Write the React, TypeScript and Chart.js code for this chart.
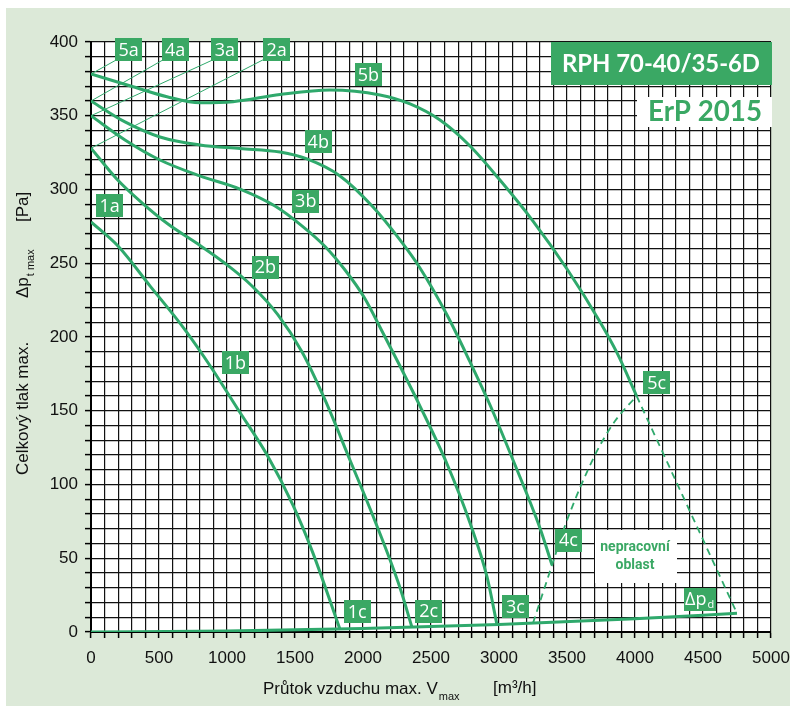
import React, { useEffect, useRef } from 'react';
import { Chart, registerables } from 'chart.js';

Chart.register(...registerables);

const LINE_GREEN = '#2fa96c';
const BOX_GREEN = '#3aa864';
const BG = '#dce9d8';

// Fan curves: flow [m3/h] and total pressure [Pa]
const curve1V = [0, 200, 435, 690, 890, 1080, 1295, 1485, 1630, 1830];
const curve1P = [278, 261.5, 234.5, 205, 178.5, 151, 120, 86, 54, 2];

const curve2V = [0, 191, 375, 566, 787, 985, 1184, 1375, 1551, 1721, 1904, 2088, 2272, 2360];
const curve2P = [328, 307, 291, 276.6, 263, 250, 234.6, 215, 190, 157.3, 116.6, 75.3, 30, 3.2];

const curve3V = [0, 250, 507, 801, 1096, 1353, 1544, 1721, 1868, 2007, 2147, 2272, 2419, 2618, 2787, 2912, 2985];
const curve3P = [350, 333.6, 320, 309.2, 300.3, 288.8, 275.9, 261.4, 245.4, 227.1, 202.7, 180.3, 153.2, 113.9, 73.9, 37.3, 5];

const curve4V = [0, 250, 507, 801, 1096, 1390, 1588, 1831, 2074, 2272, 2419, 2618, 2787, 2934, 3103, 3301, 3390];
const curve4P = [360, 345.8, 335.6, 330.2, 327.8, 325.4, 320.7, 309.2, 288.1, 265.8, 246.8, 214.9, 183.1, 153.9, 116.6, 70.5, 45.4];

const curve5V = [0, 309, 559, 801, 1044, 1390, 1757, 2125, 2346, 2566, 2787, 3007, 3250, 3500, 3743, 3868, 4012];
const curve5P = [378.3, 369.7, 362.9, 358.8, 359.5, 364.4, 367.5, 364.1, 358, 347.1, 329.5, 306.4, 278.6, 246.1, 210.2, 189.2, 160];

// Dynamic pressure line
const dynV = [0, 1000, 2000, 3000, 4000, 4750];
const dynP = [0, 0.6, 2.3, 5.1, 9, 12.7];

// Boundary of non-working area (dashed)
const leftEdgeV = [3250, 3390, 3493, 3706, 3853, 4012];
const leftEdgeP = [6, 45.4, 74, 120, 143, 160];
const rightEdgeV = [4012, 4750];
const rightEdgeP = [160, 12.7];

// Leader lines from curve starts to "a" labels
const leaderStartP = [378.3, 360, 350, 328];
const leaderEndV = [189, 532, 899, 1267];
const leaderEndP = 388;

// Curve labels
const labelText = ['1a', '1b', '1c', '2a', '2b', '2c', '3a', '3b', '3c', '4a', '4b', '4c', '5a', '5b', '5c'];
const labelV = [137, 1062, 1958, 1365, 1282, 2483, 985, 1579, 3121, 618, 1671, 3510, 277, 2039, 4160];
const labelP = [289, 182.4, 13.8, 394.6, 247.3, 14.2, 394.6, 292, 17.2, 394.6, 332.4, 62.2, 394.6, 377.8, 169];

const dynLabelV = 4478;
const dynLabelP = 22.2;

const noteLines = ['nepracovní', 'oblast'];
const noteV = 4000;
const noteP = [57.6, 45.4];

const titleText = 'RPH 70-40/35-6D';
const subtitleText = 'ErP 2015';

const xMin = 0, xMax = 5000, xStep = 100, xLabelEvery = 500;
const yMin = 0, yMax = 400, yStep = 10, yLabelEvery = 50;

const toPts = (v: number[], p: number[]) => v.map((x, i) => ({ x, y: p[i] }));

function fitFont(ctx: CanvasRenderingContext2D, text: string, weight: string, family: string, width: number) {
  ctx.font = `${weight} 20px ${family}`;
  const w = ctx.measureText(text).width;
  return (20 * width) / w;
}

const overlay = {
  id: 'overlay',
  beforeDraw(chart: any) {
    const { ctx, chartArea: a } = chart;
    ctx.save();
    ctx.fillStyle = BG;
    ctx.fillRect(6, 8, chart.width - 6, chart.height - 8);
    ctx.fillStyle = '#ffffff';
    ctx.fillRect(a.left, a.top, a.right - a.left, a.bottom - a.top);
    ctx.restore();
  },
  afterDatasetsDraw(chart: any) {
    const { ctx, chartArea: a } = chart;
    const xs = chart.scales.x;
    const ys = chart.scales.y;
    ctx.save();
    const labFont = "'Open Sans', 'Noto Sans', sans-serif";
    labelText.forEach((t, i) => {
      const cx = xs.getPixelForValue(labelV[i]);
      const cy = ys.getPixelForValue(labelP[i]);
      ctx.fillStyle = BOX_GREEN;
      ctx.fillRect(Math.round(cx - 13.5), Math.round(cy - 11.5), 27, 23);
      ctx.fillStyle = '#ffffff';
      ctx.font = `18px ${labFont}`;
      ctx.textAlign = 'center';
      ctx.textBaseline = 'middle';
      ctx.fillText(t, cx, cy + 1);
    });
    {
      const cx = xs.getPixelForValue(dynLabelV);
      const cy = ys.getPixelForValue(dynLabelP);
      ctx.fillStyle = BOX_GREEN;
      ctx.fillRect(Math.round(cx - 16), Math.round(cy - 11.5), 32, 23);
      ctx.fillStyle = '#ffffff';
      ctx.font = `18px ${labFont}`;
      ctx.textAlign = 'left';
      ctx.textBaseline = 'middle';
      const w = ctx.measureText('Δp').width;
      ctx.fillText('Δp', cx - 15, cy + 1);
      ctx.font = `11px ${labFont}`;
      ctx.fillText('d', cx - 15 + w + 1, cy + 6);
    }
    {
      const cx = xs.getPixelForValue(noteV);
      const y1 = ys.getPixelForValue(noteP[0]);
      const y2 = ys.getPixelForValue(noteP[1]);
      ctx.fillStyle = '#ffffff';
      ctx.fillRect(Math.round(cx - 40), Math.round(y1 - 17), 82, 53);
      ctx.fillStyle = BOX_GREEN;
      ctx.font = "bold 14px 'Liberation Sans Narrow', 'Roboto', sans-serif";
      ctx.textAlign = 'center';
      ctx.textBaseline = 'middle';
      ctx.fillText(noteLines[0], cx, y1);
      ctx.fillText(noteLines[1], cx, y2);
    }
    {
      const fam = "'Lato', 'Open Sans', sans-serif";
      ctx.fillStyle = BOX_GREEN;
      ctx.fillRect(a.right - 220, a.top, 221, 43);
      const fs = fitFont(ctx, titleText, 'bold', fam, 198);
      ctx.font = `bold ${fs}px ${fam}`;
      ctx.fillStyle = '#ffffff';
      ctx.textAlign = 'center';
      ctx.textBaseline = 'middle';
      ctx.fillText(titleText, a.right - 110, a.top + 22);
      ctx.fillStyle = '#ffffff';
      ctx.fillRect(a.right - 134, a.top + 55, 135, 30);
      const fs2 = fitFont(ctx, subtitleText, 'bold', fam, 114);
      ctx.font = `bold ${fs2}px ${fam}`;
      ctx.fillStyle = BOX_GREEN;
      ctx.fillText(subtitleText, a.right - 66, a.top + 70);
    }
    ctx.restore();
  },
  afterDraw(chart: any) {
    const { ctx } = chart;
    const fam = "'Liberation Sans', Arial, sans-serif";
    ctx.save();
    ctx.fillStyle = '#111111';
    ctx.textBaseline = 'middle';
    ctx.textAlign = 'left';
    ctx.font = `17px ${fam}`;
    const xt = 'Průtok vzduchu max. V';
    ctx.fillText(xt, 263, 689);
    const w1 = ctx.measureText(xt).width;
    ctx.font = `11px ${fam}`;
    ctx.fillText('max', 263 + w1 + 1, 697);
    ctx.font = `17px ${fam}`;
    ctx.fillText('[m³/h]', 493, 688);
    ctx.translate(23, 475);
    ctx.rotate(-Math.PI / 2);
    ctx.font = `17px ${fam}`;
    ctx.fillText('Celkový tlak max.', 0, 0);
    ctx.fillText('Δp', 177, 0);
    const w2 = ctx.measureText('Δp').width;
    ctx.font = `11px ${fam}`;
    ctx.fillText('t max', 177 + w2 + 1, 8);
    ctx.font = `17px ${fam}`;
    ctx.fillText('[Pa]', 253, 0);
    ctx.restore();
  },
};

export default function App() {
  const ref = useRef<HTMLCanvasElement | null>(null);
  useEffect(() => {
    document.body.style.margin = '0';
    const canvas = ref.current!;
    const curveDs = (v: number[], p: number[]) => ({
      data: toPts(v, p),
      borderColor: LINE_GREEN,
      borderWidth: 3,
      pointRadius: 0,
      cubicInterpolationMode: 'monotone' as const,
      fill: false,
    });
    const leaderDs = leaderStartP.map((p0, i) => ({
      data: [{ x: 0, y: p0 }, { x: leaderEndV[i], y: leaderEndP }],
      borderColor: LINE_GREEN,
      borderWidth: 1,
      pointRadius: 0,
      tension: 0,
      fill: false,
    }));
    const dashDs = (v: number[], p: number[]) => ({
      data: toPts(v, p),
      borderColor: LINE_GREEN,
      borderWidth: 1.8,
      borderDash: [7, 5],
      pointRadius: 0,
      cubicInterpolationMode: 'monotone' as const,
      fill: false,
    });
    const chart = new Chart(canvas, {
      type: 'line',
      data: {
        datasets: [
          ...leaderDs,
          curveDs(curve1V, curve1P),
          curveDs(curve2V, curve2P),
          curveDs(curve3V, curve3P),
          curveDs(curve4V, curve4P),
          curveDs(curve5V, curve5P),
          curveDs(dynV, dynP),
          dashDs(leftEdgeV, leftEdgeP),
          dashDs(rightEdgeV, rightEdgeP),
        ] as any,
      },
      options: {
        animation: false,
        responsive: false,
        devicePixelRatio: 1,
        layout: { padding: { left: 0, top: 42, right: 19, bottom: 0 } },
        plugins: { legend: { display: false }, tooltip: { enabled: false } },
        scales: {
          x: {
            type: 'linear',
            min: xMin,
            max: xMax,
            afterFit: (s: any) => {
              s.height = 74;
              s.paddingLeft = 0;
              s.paddingRight = 0;
            },
            ticks: {
              stepSize: xStep,
              autoSkip: false,
              maxRotation: 0,
              padding: 10,
              color: '#111',
              font: { family: "'Liberation Sans', Arial, sans-serif", size: 17 },
              callback: (v: any) => (Number(v) % xLabelEvery === 0 ? String(v) : ''),
            },
            grid: { color: '#111', lineWidth: 1.2, tickLength: 6, tickColor: '#000', tickWidth: 1.5 },
            border: { color: '#000', width: 2 },
          },
          y: {
            type: 'linear',
            min: yMin,
            max: yMax,
            afterFit: (s: any) => {
              s.width = 91;
            },
            ticks: {
              stepSize: yStep,
              autoSkip: false,
              padding: 7,
              color: '#111',
              font: { family: "'Liberation Sans', Arial, sans-serif", size: 17 },
              callback: (v: any) => (Number(v) % yLabelEvery === 0 ? String(v) : ''),
            },
            grid: { color: '#111', lineWidth: 1.2, tickLength: 6, tickColor: '#000', tickWidth: 1.5 },
            border: { color: '#000', width: 2 },
          },
        },
      },
      plugins: [overlay],
    });
    return () => chart.destroy();
  }, []);
  return (
    <div style={{ width: 790, height: 706, background: '#ffffff' }}>
      <canvas ref={ref} width={790} height={706} style={{ display: 'block', width: 790, height: 706 }} />
    </div>
  );
}
